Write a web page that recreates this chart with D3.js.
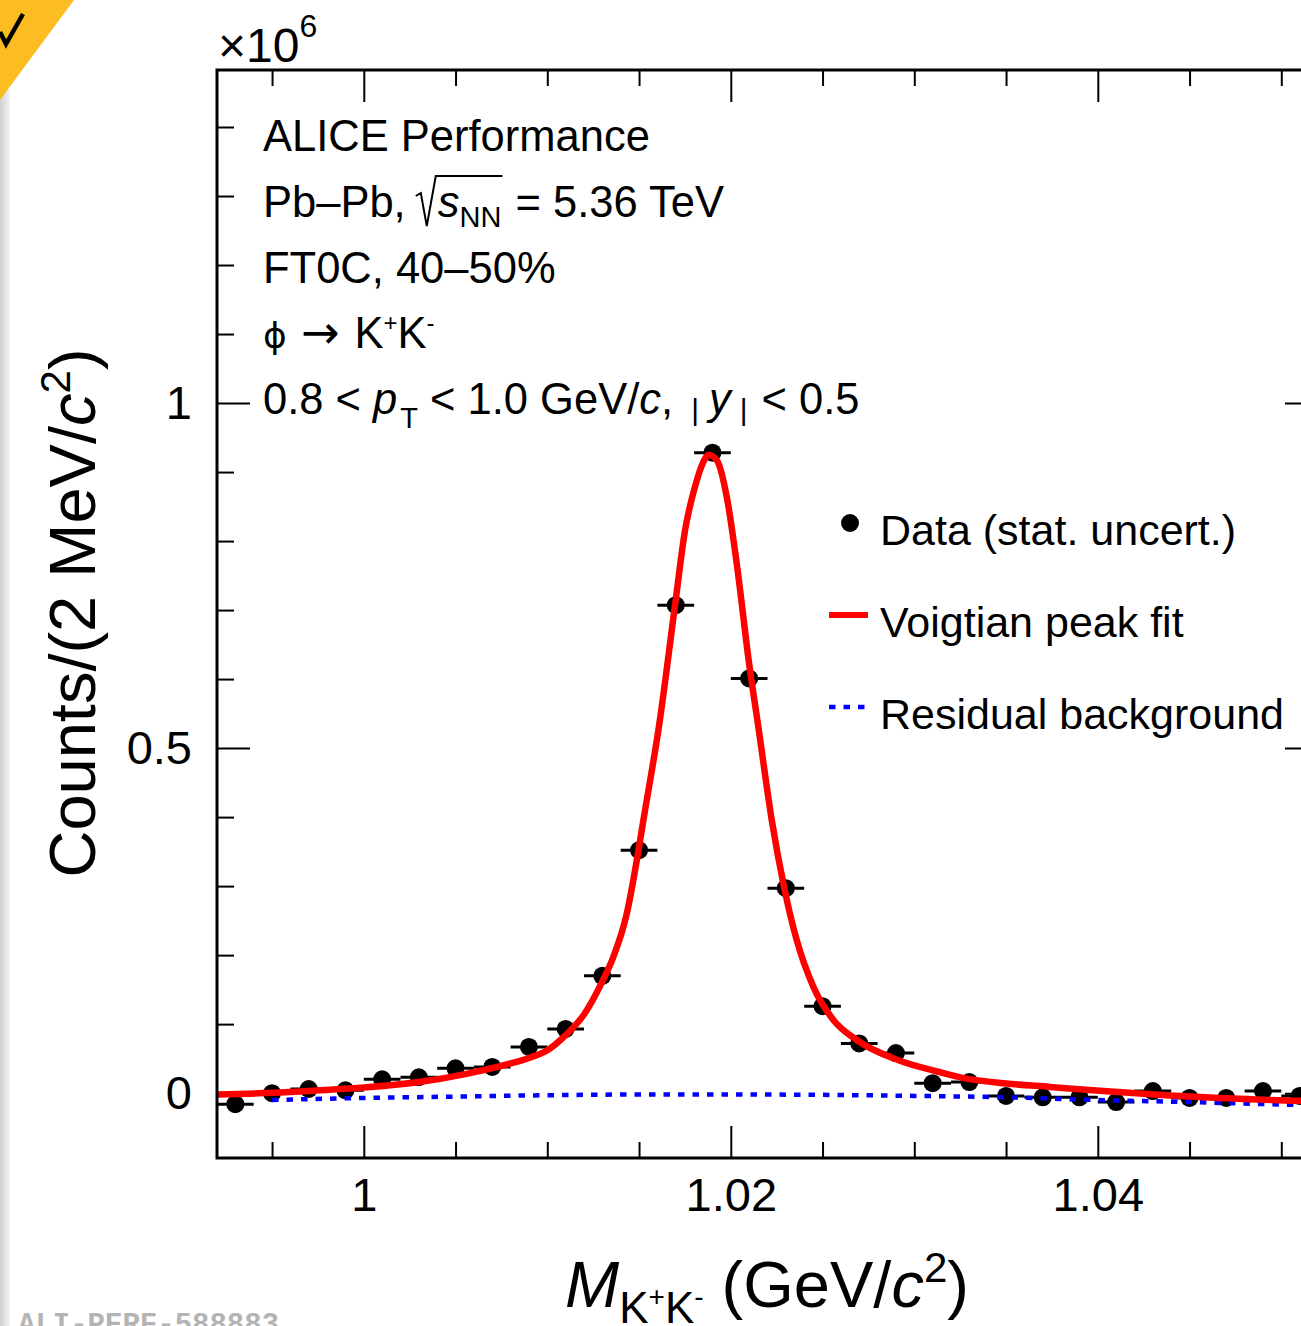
<!DOCTYPE html>
<html>
<head>
<meta charset="utf-8">
<script src="https://cdn.jsdelivr.net/npm/d3@7"></script>
<style>
  html, body { margin: 0; padding: 0; background: #fff; }
  svg { display: block; }
  text { font-family: "Liberation Sans", Arial, Helvetica, sans-serif; fill: #000; white-space: pre; }
</style>
</head>
<body>
<div id="chart"></div>
<script>
// ---- data (counts in units of 10^6, mass in GeV/c^2) ----
const binCenters = [0.993, 0.995, 0.997, 0.999, 1.001, 1.003, 1.005, 1.007, 1.009, 1.011,
  1.013, 1.015, 1.017, 1.019, 1.021, 1.023, 1.025, 1.027, 1.029, 1.031,
  1.033, 1.035, 1.037, 1.039, 1.041, 1.043, 1.045, 1.047, 1.049, 1.051];
const binCounts = [-0.016, 0.000, 0.006, 0.004, 0.020, 0.023, 0.036, 0.038, 0.067, 0.093,
  0.170, 0.352, 0.707, 0.928, 0.601, 0.297, 0.126, 0.072, 0.058, 0.0145,
  0.016, -0.004, -0.006, -0.006, -0.013, 0.003, -0.007, -0.007, 0.003, -0.004];
const binHalfWidth = 0.001;

// fit curve
const fitMass = [0.992, 0.995, 0.9975, 1.000, 1.003, 1.0056, 1.008, 1.009, 1.010, 1.011,
  1.012, 1.013, 1.0136, 1.01433, 1.01497, 1.01524, 1.01611, 1.01696, 1.01751, 1.01805,
  1.01851, 1.01878, 1.01924, 1.01978, 1.02032, 1.02101, 1.0215, 1.02223, 1.0229, 1.02359,
  1.0245, 1.02559, 1.02686, 1.0291, 1.0313, 1.03285, 1.035, 1.0374, 1.0401, 1.0437,
  1.0474, 1.0509, 1.052];
const fitCounts = [-0.002, 0.0005, 0.004, 0.008, 0.016, 0.028, 0.043, 0.051, 0.062, 0.084,
  0.114, 0.162, 0.1975, 0.260, 0.352, 0.396, 0.536, 0.707, 0.816, 0.879,
  0.915, 0.925, 0.917, 0.864, 0.768, 0.620, 0.531, 0.396, 0.299, 0.222,
  0.154, 0.106, 0.077, 0.048, 0.031, 0.021, 0.014, 0.009, 0.0034, -0.003,
  -0.0077, -0.011, -0.0115];

const bkgMass = [0.995, 1.000, 1.005, 1.010, 1.015, 1.020, 1.025, 1.030, 1.035, 1.040, 1.045, 1.052];
const bkgCounts = [-0.010, -0.007, -0.005, -0.003, -0.002, -0.002, -0.0025, -0.004, -0.006, -0.010, -0.013, -0.018];

const xMajor = [1.00, 1.02, 1.04];
const xTickLabels = ["1", "1.02", "1.04"];
const xMinor = [0.995, 1.005, 1.010, 1.015, 1.025, 1.030, 1.035, 1.045, 1.050];
const yMajor = [0, 0.5, 1];
const yTickLabels = ["0", "0.5", "1"];
const yMinor = [0.1, 0.2, 0.3, 0.4, 0.6, 0.7, 0.8, 0.9, 1.1, 1.2, 1.3, 1.4];

const legendLabels = ["Data (stat. uncert.)", "Voigtian peak fit", "Residual background"];

// ---- layout ----
const W = 1301, H = 1326;
const frame = { left: 217, top: 70, right: 1318, bottom: 1158 };

const svg = d3.select("#chart").append("svg")
  .attr("width", W).attr("height", H);

const xScale = d3.scaleLinear().domain([0.992, 1.052]).range([frame.left, frame.right]);
const yScale = d3.scaleLinear().domain([-0.094, 1.4826]).range([frame.bottom, frame.top]);

// page decorations (grey edge, approval corner, figure id)
const grad = svg.append("defs").append("linearGradient").attr("id", "edge");
grad.append("stop").attr("offset", "0%").attr("stop-color", "#cfcfcf");
grad.append("stop").attr("offset", "100%").attr("stop-color", "#f4f4f4");
svg.append("rect").attr("x", 0).attr("y", 90).attr("width", 10).attr("height", H - 90)
  .attr("fill", "url(#edge)");
svg.append("path").attr("d", "M0,0 L74,0 L0,100 Z").attr("fill", "#fbbd22");
svg.append("path").attr("d", "M0,32 L6,44 L23,14")
  .attr("fill", "none").attr("stroke", "#000").attr("stroke-width", 4.5);
svg.append("text").attr("x", 18).attr("y", 1333)
  .style("font-family", "'Liberation Mono', 'DejaVu Sans Mono', monospace")
  .style("font-weight", "bold").style("font-size", "29px").style("fill", "#b4b4b4")
  .text("ALI-PERF-588883");

// clip for the curves
svg.append("clipPath").attr("id", "plotClip").append("rect")
  .attr("x", frame.left).attr("y", frame.top)
  .attr("width", frame.right - frame.left).attr("height", frame.bottom - frame.top);

// ---- axes (ROOT style: ticks inside, on all four sides) ----
function styleAxis(g) {
  g.select(".domain").remove();
  g.selectAll("line").attr("stroke", "#000").attr("stroke-width", 2);
  g.selectAll("text").style("font-size", "47px").attr("fill", "#000")
    .style("font-family", "'Liberation Sans', Arial, sans-serif");
}

svg.append("g").attr("transform", `translate(0,${frame.bottom})`)
  .call(d3.axisBottom(xScale).tickValues(xMajor).tickSize(-32).tickPadding(20)
    .tickFormat((d, i) => xTickLabels[i]))
  .call(styleAxis);
svg.append("g").attr("transform", `translate(0,${frame.bottom})`)
  .call(d3.axisBottom(xScale).tickValues(xMinor).tickSize(-16).tickFormat(""))
  .call(styleAxis);
svg.append("g").attr("transform", `translate(0,${frame.top})`)
  .call(d3.axisTop(xScale).tickValues(xMajor).tickSize(-32).tickFormat(""))
  .call(styleAxis);
svg.append("g").attr("transform", `translate(0,${frame.top})`)
  .call(d3.axisTop(xScale).tickValues(xMinor).tickSize(-16).tickFormat(""))
  .call(styleAxis);

svg.append("g").attr("transform", `translate(${frame.left},0)`)
  .call(d3.axisLeft(yScale).tickValues(yMajor).tickSize(-33).tickPadding(25)
    .tickFormat((d, i) => yTickLabels[i]))
  .call(styleAxis);
svg.append("g").attr("transform", `translate(${frame.left},0)`)
  .call(d3.axisLeft(yScale).tickValues(yMinor).tickSize(-17).tickFormat(""))
  .call(styleAxis);
svg.append("g").attr("transform", `translate(${frame.right},0)`)
  .call(d3.axisRight(yScale).tickValues(yMajor).tickSize(-33).tickFormat(""))
  .call(styleAxis);
svg.append("g").attr("transform", `translate(${frame.right},0)`)
  .call(d3.axisRight(yScale).tickValues(yMinor).tickSize(-17).tickFormat(""))
  .call(styleAxis);

// ---- data points ----
const points = binCenters.map((m, i) => ({ m, c: binCounts[i] }));
const dataG = svg.append("g").attr("clip-path", "url(#plotClip)");
dataG.selectAll("line.xerr").data(points).enter().append("line")
  .attr("class", "xerr")
  .attr("x1", d => xScale(d.m - binHalfWidth)).attr("x2", d => xScale(d.m + binHalfWidth))
  .attr("y1", d => yScale(d.c)).attr("y2", d => yScale(d.c))
  .attr("stroke", "#000").attr("stroke-width", 3);
dataG.selectAll("circle").data(points).enter().append("circle")
  .attr("cx", d => xScale(d.m)).attr("cy", d => yScale(d.c)).attr("r", 9)
  .attr("fill", "#000");

// ---- curves ----
const line = d3.line().x(d => xScale(d[0])).y(d => yScale(d[1])).curve(d3.curveMonotoneX);
const curveG = svg.append("g").attr("clip-path", "url(#plotClip)");
curveG.append("path")
  .datum(bkgMass.map((m, i) => [m, bkgCounts[i]]))
  .attr("d", line).attr("fill", "none")
  .attr("stroke", "#0000ff").attr("stroke-width", 4.5).attr("stroke-dasharray", "6.5 8");
curveG.append("path")
  .datum(fitMass.map((m, i) => [m, fitCounts[i]]))
  .attr("d", line).attr("fill", "none")
  .attr("stroke", "#ff0000").attr("stroke-width", 6.5).attr("stroke-linejoin", "round");

// ---- frame ----
svg.append("rect")
  .attr("x", frame.left).attr("y", frame.top)
  .attr("width", frame.right - frame.left).attr("height", frame.bottom - frame.top)
  .attr("fill", "none").attr("stroke", "#000").attr("stroke-width", 3);

// ---- rich text helper: lays runs one after another ----
function runs(g, x, y, parts, size) {
  let cx = x;
  const pos = [];
  parts.forEach(p => {
    if (p.gap) { cx += p.gap; pos.push(cx); return; }
    const t = g.append("text")
      .attr("x", cx).attr("y", y + (p.dy || 0))
      .style("font-size", (p.size || size) + "px")
      .style("font-style", p.it ? "italic" : null)
      .text(p.t);
    if (p.font) t.style("font-family", p.font);
    pos.push(cx);
    cx += t.node().getComputedTextLength();
  });
  pos.push(cx);
  return pos;
}

const info = svg.append("g");
const fs = 43.5;
runs(info, 263, 151, [{ t: "ALICE Performance" }], fs);

// Pb-Pb line with square root
const p2 = runs(info, 263, 217, [
  { t: "Pb\u2013Pb, " },
  { gap: 20 },
  { t: "s", it: true },
  { t: "NN", size: 29, dy: 10 },
  { gap: 2 },
  { t: " = 5.36 TeV" }
], fs);
{
  const x0 = p2[1] - 22, x1 = p2[4] - 1;
  info.append("path")
    .attr("d", `M${x0},${196} L${x0 + 5},${193} L${x0 + 11},${226} L${x0 + 20},${176} L${x1},${176}`)
    .attr("fill", "none").attr("stroke", "#000").attr("stroke-width", 2);
}

runs(info, 263, 283, [{ t: "FT0C, 40\u201350%" }], fs);
runs(info, 263, 348, [
  { t: "\u03D5", font: "'DejaVu Sans', sans-serif", size: 36 },
  { t: " \u2192 ", font: "'DejaVu Sans', sans-serif", size: 46 },
  { t: "K" },
  { t: "+", size: 24, dy: -17 },
  { t: "K" },
  { t: "-", size: 24, dy: -17 }
], fs);
runs(info, 263, 414, [
  { t: "0.8 < " },
  { t: "p", it: true },
  { gap: 3 },
  { t: "T", size: 29, dy: 14 },
  { t: " < 1.0 GeV/" },
  { t: "c", it: true },
  { t: ", " },
  { gap: 6 },
  { t: "|", size: 30, dy: 6 },
  { gap: 10 },
  { t: "y", it: true },
  { gap: 9 },
  { t: "|", size: 30, dy: 6 },
  { gap: 2 },
  { t: " < 0.5" }
], fs);

// ---- legend ----
const leg = svg.append("g");
const legY = [523, 615, 707];
leg.append("circle").attr("cx", 850).attr("cy", legY[0]).attr("r", 9).attr("fill", "#000");
leg.append("line").attr("x1", 829).attr("x2", 868).attr("y1", legY[1]).attr("y2", legY[1])
  .attr("stroke", "#ff0000").attr("stroke-width", 6);
leg.append("line").attr("x1", 829).attr("x2", 868).attr("y1", legY[2]).attr("y2", legY[2])
  .attr("stroke", "#0000ff").attr("stroke-width", 4.5).attr("stroke-dasharray", "6.5 8");
legendLabels.forEach((l, i) => {
  leg.append("text").attr("x", 880).attr("y", legY[i] + 22)
    .style("font-size", "43px").text(l);
});

// ---- multiplier ----
runs(svg, 218, 62, [
  { t: "\u00D710", size: 48 },
  { t: "6", size: 32, dy: -25 }
], 48);

// ---- axis titles ----
const xt = svg.append("text").attr("x", 565).attr("y", 1307).style("font-size", "65px");
xt.append("tspan").style("font-style", "italic").text("M");
xt.append("tspan").attr("dy", 16).style("font-size", "44px").text("K");
xt.append("tspan").attr("dy", -17).style("font-size", "28px").text("+");
xt.append("tspan").attr("dy", 17).style("font-size", "44px").text("K");
xt.append("tspan").attr("dy", -17).style("font-size", "28px").text("-");
xt.append("tspan").attr("dy", 1).text(" (GeV/");
xt.append("tspan").style("font-style", "italic").text("c");
xt.append("tspan").attr("dy", -25).style("font-size", "42px").text("2");
xt.append("tspan").attr("dy", 25).text(")");

const yt = svg.append("text")
  .attr("transform", "translate(95,613) rotate(-90)")
  .attr("text-anchor", "middle").style("font-size", "65px");
yt.append("tspan").text("Counts/(2 MeV/");
yt.append("tspan").style("font-style", "italic").text("c");
yt.append("tspan").attr("dy", -25).style("font-size", "42px").text("2");
yt.append("tspan").attr("dy", 25).text(")");
</script>
</body>
</html>
